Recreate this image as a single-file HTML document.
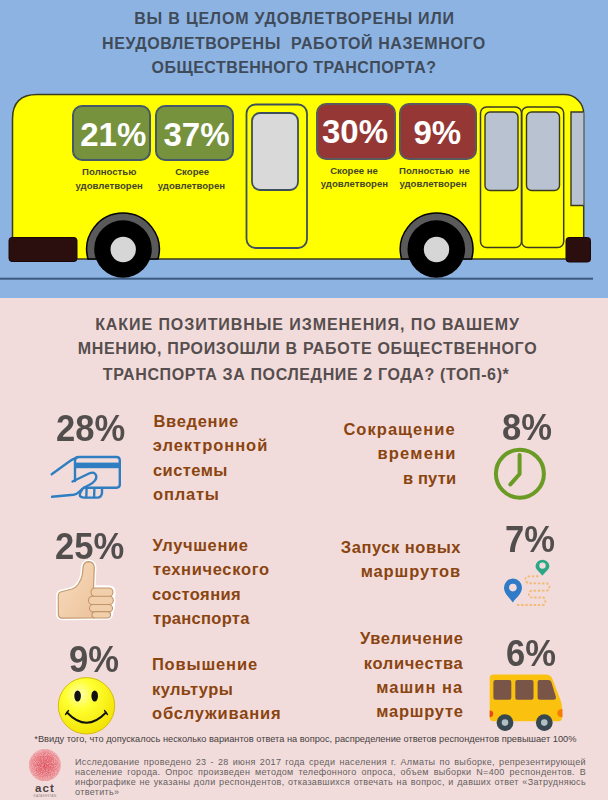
<!DOCTYPE html>
<html><head><meta charset="utf-8">
<style>
*{margin:0;padding:0;box-sizing:border-box}
html,body{width:608px;height:800px;overflow:hidden}
body{position:relative;background:#f2dcdb;font-family:"Liberation Sans",sans-serif}
.abs{position:absolute}
#top{position:absolute;left:0;top:0;width:608px;height:298px;background:#8db3e2}
.t1{position:absolute;left:0;width:586px;text-align:center;font-weight:bold;font-size:16px;line-height:24.4px;color:#404b5a;white-space:pre;letter-spacing:0.55px}
.box{position:absolute;border-radius:10px;border:2.2px solid #4a5a62}
.bt{position:absolute;color:#fff;font-weight:bold;font-size:33px;line-height:36px;white-space:pre}
.g{background:#76923c;border-color:#44586a}
.r{background:#953735;border-color:#5a5a5e}
.lbl{position:absolute;width:100px;text-align:center;font-weight:bold;font-size:9.6px;line-height:13.4px;color:#45452a;white-space:pre}
.t2{position:absolute;left:0;width:615px;text-align:center;font-weight:bold;font-size:16px;line-height:25px;color:#564e4e;white-space:pre;letter-spacing:0.65px}
.pct{position:absolute;font-weight:bold;font-size:36.2px;line-height:40px;color:#524e4e;white-space:pre;transform:scaleX(0.955);transform-origin:0 0}
.it{position:absolute;font-weight:bold;font-size:16.5px;line-height:24px;color:#8a4410;white-space:pre}
.itr{text-align:right}
</style></head>
<body>
<div id="top"></div>
<div class="t1" style="top:7.2px;left:1.5px;letter-spacing:0.8px">ВЫ В ЦЕЛОМ УДОВЛЕТВОРЕНЫ ИЛИ</div>
<div class="t1" style="top:31.6px;left:1px;letter-spacing:0.58px">НЕУДОВЛЕТВОРЕНЫ  РАБОТОЙ НАЗЕМНОГО</div>
<div class="t1" style="top:55.8px;left:1px;letter-spacing:0.45px">ОБЩЕСТВЕННОГО ТРАНСПОРТА?</div>

<!-- BUS -->
<svg class="abs" style="left:0;top:0" width="608" height="298" viewBox="0 0 608 298">
  <!-- ground line -->
  <rect x="0" y="277.7" width="593" height="2" fill="#3a5a80"/>
  <!-- body -->
  <path d="M12.5,259 L12.5,119 Q12.5,94.6 37,94.6 L564.5,94.6 A19.2,19.2 0 0 1 583.7,113.8 L583.7,259 Z" fill="#ffff00" stroke="#3a3a20" stroke-width="1.5"/>
  <!-- front door -->
  <rect x="246.5" y="104.5" width="60.5" height="143.5" rx="9" fill="none" stroke="#3d4f5c" stroke-width="1.8"/>
  <rect x="252" y="113" width="46" height="77" rx="8" fill="#d9d9d9" stroke="#3d4f5c" stroke-width="1.8"/>
  <!-- rear doors -->
  <rect x="480.5" y="107" width="41" height="140.5" rx="6" fill="none" stroke="#3a3a20" stroke-width="1.5"/>
  <rect x="521.7" y="107" width="42" height="140.5" rx="6" fill="none" stroke="#3a3a20" stroke-width="1.5"/>
  <rect x="485" y="112" width="33" height="78.5" rx="5" fill="#b8c2d0" stroke="#3a3a20" stroke-width="1.4"/>
  <rect x="526.5" y="112" width="33" height="78.5" rx="5" fill="#b8c2d0" stroke="#3a3a20" stroke-width="1.4"/>
  <!-- windshield -->
  <path d="M583.5,112 L571,112 L571,205.5 L583.5,205.5" fill="#b8c2d0" stroke="#3a3a20" stroke-width="1.4"/>
  <!-- wheel arches -->
  <path d="M88,259 A36.3,36.3 0 1 1 158,259 Z" fill="#5a5a5a" stroke="#000" stroke-width="1.5"/>
  <path d="M401.6,259 A36.3,36.3 0 1 1 471.6,259 Z" fill="#5a5a5a" stroke="#000" stroke-width="1.5"/>
  <circle cx="123" cy="249" r="28.8" fill="#000"/>
  <circle cx="123.2" cy="249.5" r="12.7" fill="#d6d6d6"/>
  <circle cx="436.3" cy="249" r="28.8" fill="#000"/>
  <circle cx="436.5" cy="249.5" r="12.7" fill="#d6d6d6"/>
  <!-- bumpers -->
  <rect x="9" y="237.5" width="68" height="24" rx="3" fill="#2b0f0f" stroke="#1a0808" stroke-width="1"/>
  <rect x="566" y="237.5" width="24.5" height="24.5" rx="3" fill="#2b0f0f" stroke="#1a0808" stroke-width="1"/>
</svg>

<div class="box g" style="left:72px;top:105.3px;width:78.5px;height:56px"></div>
<div class="box g" style="left:155.2px;top:105.3px;width:78.4px;height:56px"></div>
<div class="box r" style="left:315.9px;top:103.2px;width:79.9px;height:56.7px"></div>
<div class="box r" style="left:398.6px;top:103.2px;width:78.5px;height:56.7px"></div>
<div class="bt" style="left:80.2px;top:116.8px">21%</div>
<div class="bt" style="left:163.5px;top:116.9px">37%</div>
<div class="bt" style="left:322px;top:114.1px">30%</div>
<div class="bt" style="left:413.5px;top:114.9px">9%</div>


<div class="lbl" style="left:59.25px;top:165.1px">Полностью</div>
<div class="lbl" style="left:59.15px;top:178.7px">удовлетворен</div>
<div class="lbl" style="left:142.20px;top:165.1px">Скорее</div>
<div class="lbl" style="left:141.40px;top:178.7px">удовлетворен</div>
<div class="lbl" style="left:304.05px;top:164.0px">Скорее не</div>
<div class="lbl" style="left:304.45px;top:177.1px">удовлетворен</div>
<div class="lbl" style="left:384.45px;top:164.0px">Полностью  не</div>
<div class="lbl" style="left:383.05px;top:177.1px">удовлетворен</div>

<!-- SECOND TITLE -->
<div class="t2" style="top:312px;letter-spacing:0.93px">КАКИЕ ПОЗИТИВНЫЕ ИЗМЕНЕНИЯ, ПО ВАШЕМУ</div>
<div class="t2" style="top:335.9px;letter-spacing:0.69px">МНЕНИЮ, ПРОИЗОШЛИ В РАБОТЕ ОБЩЕСТВЕННОГО</div>
<div class="t2" style="top:361.5px;left:-1.4px;letter-spacing:0.63px">ТРАНСПОРТА ЗА ПОСЛЕДНИЕ 2 ГОДА? (ТОП-6)*</div>

<!-- LEFT ITEMS -->
<div class="pct" style="left:56.3px;top:408.6px">28%</div>

<div class="pct" style="left:54.6px;top:526.9px">25%</div>

<div class="pct" style="left:68.5px;top:639.6px">9%</div>

<!-- RIGHT ITEMS -->
<div class="pct" style="left:502.3px;top:407.9px">8%</div>

<div class="pct" style="left:504.6px;top:519.9px">7%</div>

<div class="pct" style="left:505.8px;top:633.7px">6%</div>


<!-- ITEM TEXT -->
<div class="it" style="left:153.4px;top:408.6px;letter-spacing:0.70px">Введение</div>
<div class="it" style="left:152.8px;top:433.0px;letter-spacing:0.97px">электронной</div>
<div class="it" style="left:153.0px;top:457.6px;letter-spacing:0.42px">системы</div>
<div class="it" style="left:153.0px;top:481.6px;letter-spacing:0.80px">оплаты</div>
<div class="it" style="left:152.4px;top:532.8px;letter-spacing:0.64px">Улучшение</div>
<div class="it" style="left:152.9px;top:557.4px;letter-spacing:0.66px">технического</div>
<div class="it" style="left:152.0px;top:581.8px;letter-spacing:0.43px">состояния</div>
<div class="it" style="left:153.0px;top:606.0px;letter-spacing:0.31px">транспорта</div>
<div class="it" style="left:151.9px;top:652.3px;letter-spacing:0.85px">Повышение</div>
<div class="it" style="left:152.0px;top:676.6px;letter-spacing:0.39px">культуры</div>
<div class="it" style="left:152.0px;top:701.2px;letter-spacing:0.83px">обслуживания</div>
<div class="it" style="left:343.4px;top:416.7px;letter-spacing:1.04px">Сокращение</div>
<div class="it" style="left:377.4px;top:441.4px;letter-spacing:1.23px">времени</div>
<div class="it" style="left:402.9px;top:465.6px;letter-spacing:0.18px">в пути</div>
<div class="it" style="left:340.8px;top:534.5px;letter-spacing:0.54px">Запуск новых</div>
<div class="it" style="left:360.7px;top:558.6px;letter-spacing:0.88px">маршрутов</div>
<div class="it" style="left:359.9px;top:626.3px;letter-spacing:0.62px">Увеличение</div>
<div class="it" style="left:363.8px;top:650.8px;letter-spacing:0.63px">количества</div>
<div class="it" style="left:376.3px;top:675.1px;letter-spacing:1.03px">машин на</div>
<div class="it" style="left:376.3px;top:698.8px;letter-spacing:0.74px">маршруте</div>

<!-- ICONS -->
<svg class="abs" style="left:0;top:0" width="608" height="800" viewBox="0 0 608 800">
  <defs>
    <radialGradient id="smg" cx="0.38" cy="0.3" r="0.75">
      <stop offset="0" stop-color="#ffffb0"/>
      <stop offset="0.35" stop-color="#ffff30"/>
      <stop offset="1" stop-color="#f2e000"/>
    </radialGradient>
    <radialGradient id="lg" cx="0.5" cy="0.5" r="0.5">
      <stop offset="0" stop-color="#de4e5c"/>
      <stop offset="0.6" stop-color="#e6737c"/>
      <stop offset="1" stop-color="#eea0a4"/>
    </radialGradient>
    <linearGradient id="skin" x1="0" y1="0" x2="1" y2="1">
      <stop offset="0" stop-color="#f9dcbf"/>
      <stop offset="1" stop-color="#ecc39c"/>
    </linearGradient>
  </defs>
  <!-- card + hand -->
  <g fill="none" stroke="#2f7ec1" stroke-width="2.4" stroke-linecap="round" stroke-linejoin="round">
    <path d="M75,481 L75,460 Q75,457 79,457 L116.5,457 Q119.8,457 119.8,460.5 L119.8,484.5 Q119.8,487.7 116.5,487.7 L84,487.7"/>
    <path d="M51.7,474.2 L70,461 Q73,458.6 76.5,458"/>
    <path d="M72.5,481.5 L89,473.5 Q95,471 96.3,476 Q97,481 89,485 Q83,487.5 80,491 Q77,494.2 73.5,494.8 L52,496.8"/>
    <path d="M82.5,489 Q79,494 80,496 Q81,497.6 84,497.6 L98,497.6 Q101.5,497 102,493 L102,488.5"/>
    <path d="M86.6,488.5 L86.3,497"/>
    <path d="M94.4,488.5 L94.1,497"/>
  </g>
  <rect x="75" y="462.6" width="45.5" height="5.6" fill="#2f7ec1"/>

  <!-- thumbs up -->
  <g stroke="#ffffff" stroke-width="4.2" stroke-linejoin="round" fill="#fff">
    <path d="M60.5,592 Q66,590.5 72,589 Q76,587.5 78,584.5 Q81.5,580 82.5,574 L83,567 Q84,561.7 88.8,561.7 Q94,562 94.3,567.5 L93.8,580 L93.5,587 L110,587.5 Q113.5,588 113.5,592 Q113.5,596 112.5,597 Q114,600 113,604.5 Q113,608 111.5,611.5 Q111.5,616.5 108,617.7 L62,618.2 Q58.3,618 58.3,614 L58.3,595 Q58.5,592.5 60.5,592 Z"/>
  </g>
  <path d="M60.5,592 Q66,590.5 72,589 Q76,587.5 78,584.5 Q81.5,580 82.5,574 L83,567 Q84,561.7 88.8,561.7 Q94,562 94.3,567.5 L93.8,580 L93.5,587 L94,618 L62,618.2 Q58.3,618 58.3,614 L58.3,595 Q58.5,592.5 60.5,592 Z" fill="url(#skin)" stroke="#c39a72" stroke-width="1.2"/>
  <g fill="#f2cfab" stroke="#c0956c" stroke-width="1.1">
    <rect x="91" y="588" width="22" height="8.5" rx="4.2"/>
    <rect x="88.5" y="596.3" width="24.8" height="8.3" rx="4.1"/>
    <rect x="89.5" y="604.5" width="23" height="7.4" rx="3.7"/>
    <rect x="92" y="611.6" width="18.5" height="6.4" rx="3.2"/>
  </g>

  <!-- smiley -->
  <circle cx="86.5" cy="705.8" r="28.2" fill="url(#smg)" stroke="#cdb800" stroke-width="0.9"/>
  <ellipse cx="77.6" cy="696" rx="3.3" ry="5.5" fill="#111"/>
  <ellipse cx="94.7" cy="696" rx="3.3" ry="5.5" fill="#111"/>
  <path d="M67,712.5 Q86.5,733 106,712.5" fill="none" stroke="#111" stroke-width="1.9" stroke-linecap="round"/>
  <path d="M65.5,714.5 L68.5,710.5 M107.5,714.5 L104.5,710.5" stroke="#111" stroke-width="1.3" stroke-linecap="round"/>

  <!-- clock -->
  <circle cx="519.9" cy="473.7" r="24" fill="none" stroke="#6a9b24" stroke-width="4"/>
  <path d="M519.6,455 L519.6,474 L510.4,484.4" fill="none" stroke="#6a9b24" stroke-width="4" stroke-linecap="round" stroke-linejoin="round"/>

  <!-- route -->
  <path d="M538.5,576.2 L527,576.5 Q523.5,578.5 527.6,583.2 L547.5,583.5 Q551.5,586 547.4,590.6 L531,590.8 Q527.5,593.5 529.8,597.4 L543.5,597.5 Q547,600.5 543.8,605 L515.5,605" fill="none" stroke="#f2bc78" stroke-width="1.9" stroke-dasharray="2.5 1.7"/>
  <!-- pins -->
  <path d="M542.4,575.8 C540,572 535.5,569.5 535.5,566 A7,7 0 0 1 549.4,566 C549.4,569.5 545,572 542.4,575.8 Z" fill="#2aa784"/>
  <circle cx="542.5" cy="565.6" r="3.2" fill="#f2dcdb"/>
  <path d="M512.9,602.5 C509.5,597.5 504,594 504,587.6 A9,9 0 0 1 522,587.6 C522,594 516.3,597.5 512.9,602.5 Z" fill="#2f7bc8"/>
  <circle cx="512.9" cy="587.6" r="3.8" fill="#f2dcdb"/>

  <!-- small bus -->
  <path d="M493.5,674.5 L546,674.5 Q550,674.5 552,678 L560.5,700 Q562,704 562,708 L562,717.5 Q562,721.3 558.5,721.3 L493.5,721.3 Q489.7,721.3 489.7,717.5 L489.7,678.3 Q489.7,674.5 493.5,674.5 Z" fill="#fbc10f"/>
  <g fill="#795548">
    <rect x="493.4" y="680.1" width="17.9" height="19.6" rx="2"/>
    <rect x="515.3" y="680.1" width="18.2" height="19.6" rx="2"/>
    <path d="M539.6,680.1 L548.5,680.1 Q550.5,680.1 551.3,682 L555.8,696.5 Q556.5,699.7 553.5,699.7 L539.6,699.7 Q537.6,699.7 537.6,697.7 L537.6,682.1 Q537.6,680.1 539.6,680.1 Z"/>
  </g>
  <path d="M489.7,710.5 Q493.2,710.5 493.2,713.8 Q493.2,717.2 489.7,717.2 Z" fill="#e64a19"/>
  <path d="M562.5,709.1 Q557.3,709.1 557.3,713.2 Q557.3,717.2 562.5,717.2 Z" fill="#f57c00"/>
  <circle cx="505" cy="722.6" r="8.4" fill="#37474f"/>
  <circle cx="505" cy="722.6" r="3.3" fill="#b0bec5"/>
  <circle cx="544.3" cy="722.6" r="8.4" fill="#37474f"/>
  <circle cx="544.3" cy="722.6" r="3.3" fill="#b0bec5"/>

  <!-- logo -->
  <filter id="noise" x="0" y="0" width="100%" height="100%">
    <feTurbulence type="fractalNoise" baseFrequency="0.9" numOctaves="2" seed="3" result="n"/>
    <feColorMatrix in="n" type="matrix" values="0 0 0 0 1  0 0 0 0 0.9  0 0 0 0 0.9  0 0 0 0.9 -0.38" result="w"/>
    <feComposite in="w" in2="SourceGraphic" operator="in" result="wm"/>
    <feMerge><feMergeNode in="SourceGraphic"/><feMergeNode in="wm"/></feMerge>
  </filter>
  <circle cx="44.9" cy="765.1" r="16" fill="url(#lg)" filter="url(#noise)"/>
  <text x="45" y="792" text-anchor="middle" font-family="Liberation Sans" font-weight="bold" font-size="11.5" fill="#4d4242" letter-spacing="1.2">act</text>
  <text x="45" y="797" text-anchor="middle" font-family="Liberation Sans" font-size="3" fill="#8a7c7c" letter-spacing="0.3">KAZAKHSTAN</text>
</svg>

<!-- FOOTER -->
<div class="abs" style="left:34.3px;top:734.3px;font-size:9.25px;line-height:11px;color:#444040;white-space:pre">*Ввиду того, что допускалось несколько вариантов ответа на вопрос, распределение ответов респондентов превышает 100%</div>
<div class="abs" style="left:75px;top:757.2px;width:511px;font-size:9px;line-height:10px;color:#656060;text-align:justify;letter-spacing:0.35px">Исследование проведено 23 - 28 июня 2017 года среди населения г. Алматы по выборке, репрезентирующей население города. Опрос произведен методом телефонного опроса, объем выборки N=400 респондентов. В инфографике не указаны доли респондентов, отказавшихся отвечать на вопрос, и давших ответ «Затрудняюсь ответить»</div>

</body></html>
